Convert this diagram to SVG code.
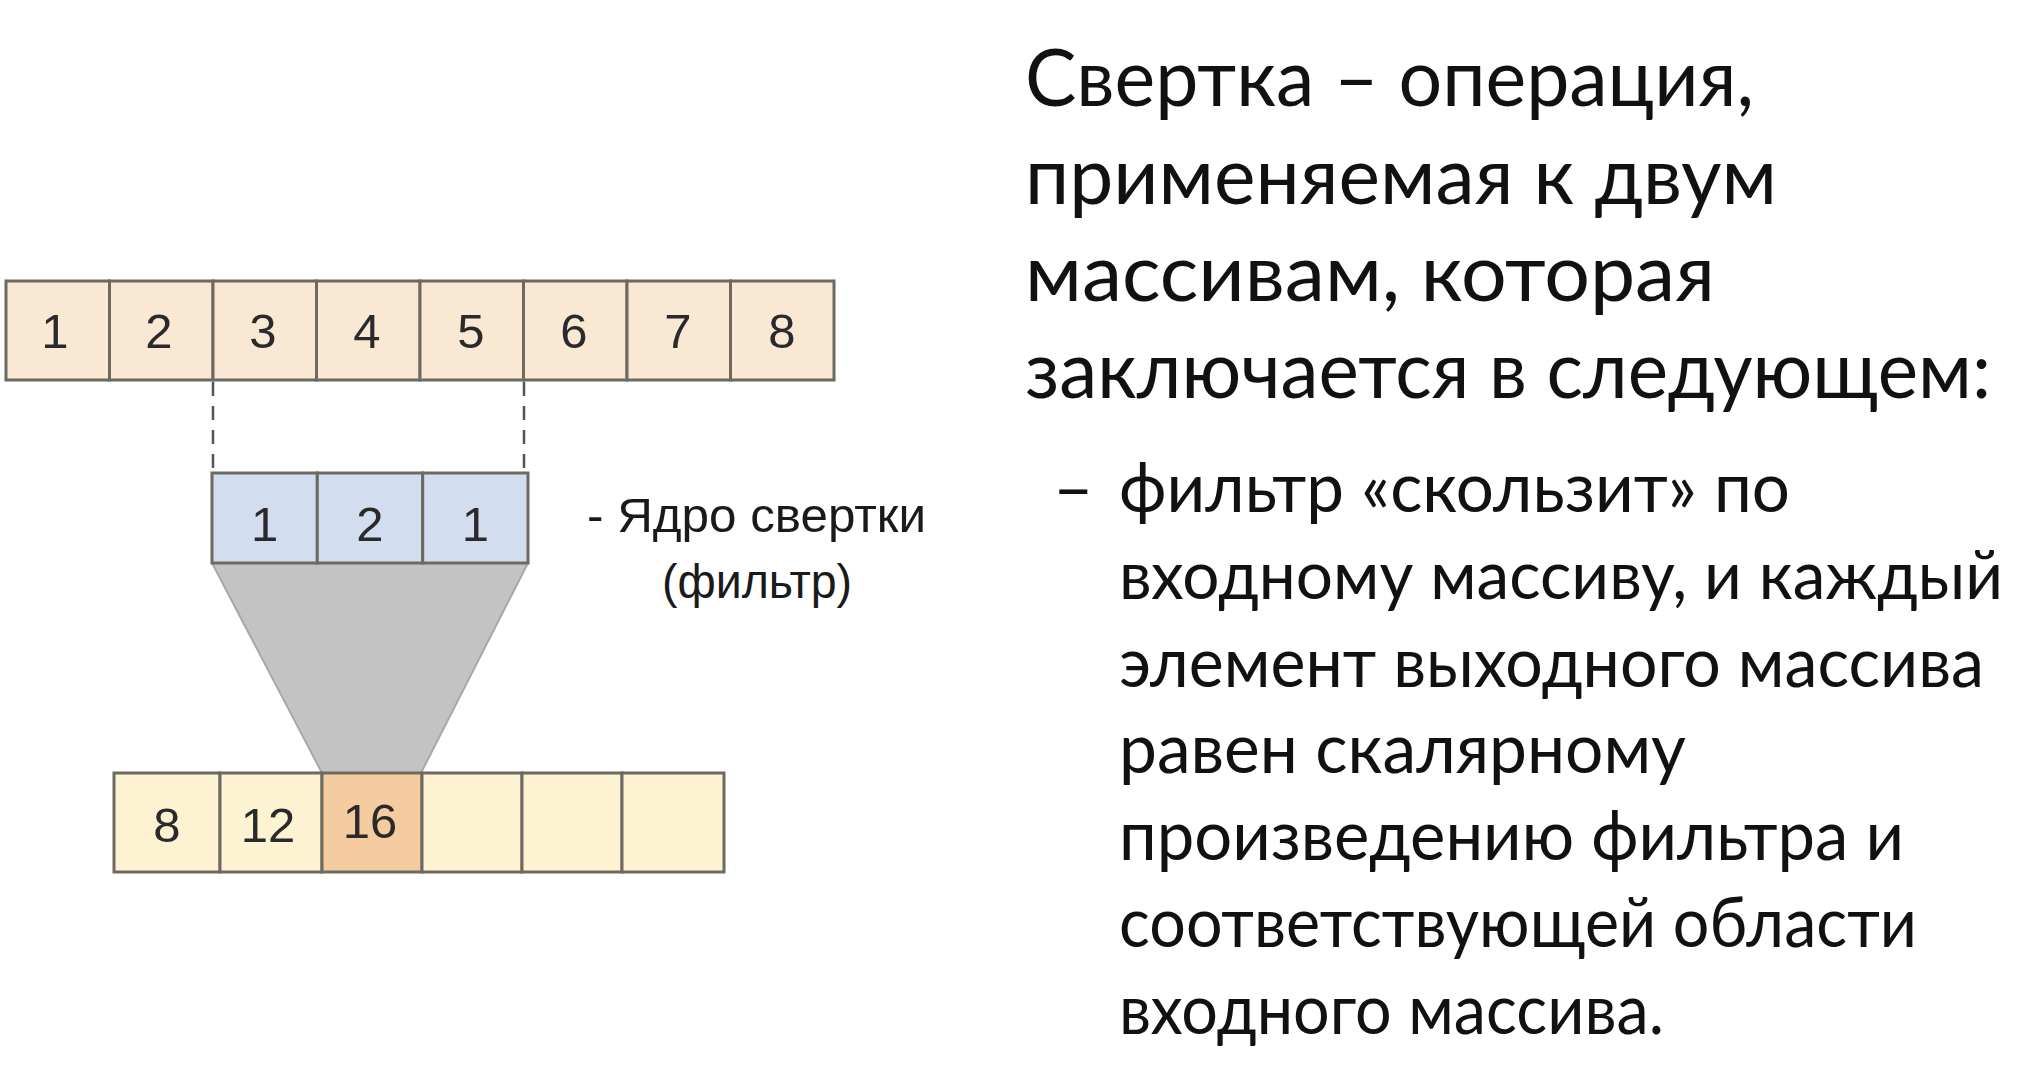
<svg xmlns="http://www.w3.org/2000/svg" width="2034" height="1066" viewBox="0 0 2034 1066">
<style>
.cellA{fill:#f8e8d4;stroke:#6e6a62;stroke-width:3}
.cellK{fill:#d2ddf0;stroke:#6e6a62;stroke-width:3}
.cellO{fill:#fdf2d2;stroke:#6e6a62;stroke-width:3}
.cellH{fill:#f4cc9f;stroke:#6e6a62;stroke-width:3}
.num{font-family:"Liberation Sans",Arial,sans-serif;font-size:49px;fill:#2a2a2a;text-anchor:middle}
.lbl{font-family:"Liberation Sans",Arial,sans-serif;font-size:48px;fill:#1a1a1a}
.h{font-family:Lato,"Open Sans",sans-serif;font-size:79px;fill:#111}
.b{font-family:Lato,"Open Sans",sans-serif;font-size:70px;fill:#111}
.dash{stroke:#555;stroke-width:2.5;stroke-dasharray:14 10;fill:none}
</style>
<rect width="2034" height="1066" fill="#ffffff"/>
<g id="connectors">
  <line class="dash" x1="213" y1="382" x2="213" y2="473"/>
  <line class="dash" x1="524" y1="382" x2="524" y2="473"/>
  <polygon points="212,563 528,563 421,773 322,773" fill="#c3c3c3" stroke="#a8a8a8" stroke-width="2"/>
</g>
<g id="input-array">
  <rect class="cellA" x="6" y="281" width="103.5" height="99"/>
  <rect class="cellA" x="109.5" y="281" width="103.5" height="99"/>
  <rect class="cellA" x="213" y="281" width="103.5" height="99"/>
  <rect class="cellA" x="316.5" y="281" width="103.5" height="99"/>
  <rect class="cellA" x="420" y="281" width="103.5" height="99"/>
  <rect class="cellA" x="523.5" y="281" width="103.5" height="99"/>
  <rect class="cellA" x="627" y="281" width="103.5" height="99"/>
  <rect class="cellA" x="730.5" y="281" width="103.5" height="99"/>
  <text class="num" x="55" y="348">1</text>
  <text class="num" x="159" y="348">2</text>
  <text class="num" x="263" y="348">3</text>
  <text class="num" x="367" y="348">4</text>
  <text class="num" x="471" y="348">5</text>
  <text class="num" x="574" y="348">6</text>
  <text class="num" x="678" y="348">7</text>
  <text class="num" x="782" y="348">8</text>
</g>
<g id="kernel">
  <rect class="cellK" x="212" y="473" width="105.3" height="90"/>
  <rect class="cellK" x="317.3" y="473" width="105.4" height="90"/>
  <rect class="cellK" x="422.7" y="473" width="105.3" height="90"/>
  <text class="num" x="264.7" y="541">1</text>
  <text class="num" x="370" y="541">2</text>
  <text class="num" x="475.3" y="541">1</text>
</g>
<g id="kernel-label">
  <text class="lbl" x="587" y="532" textLength="339" lengthAdjust="spacingAndGlyphs">- Ядро свертки</text>
  <text class="lbl" x="662" y="598" textLength="190" lengthAdjust="spacingAndGlyphs">(фильтр)</text>
</g>
<g id="output-array">
  <rect class="cellO" x="114" y="773" width="106" height="99"/>
  <rect class="cellO" x="220" y="773" width="102" height="99"/>
  <rect class="cellH" x="322" y="773" width="100" height="99"/>
  <rect class="cellO" x="422" y="773" width="100" height="99"/>
  <rect class="cellO" x="522" y="773" width="100" height="99"/>
  <rect class="cellO" x="622" y="773" width="102" height="99"/>
  <text class="num" x="167" y="842">8</text>
  <text class="num" x="268" y="842">12</text>
  <text class="num" x="370" y="838">16</text>
</g>
<g id="description">
  <text class="h" x="1025" y="106" textLength="729" lengthAdjust="spacingAndGlyphs">Свертка – операция,</text>
  <text class="h" x="1025" y="204" textLength="752" lengthAdjust="spacingAndGlyphs">применяемая к двум</text>
  <text class="h" x="1025" y="301" textLength="690" lengthAdjust="spacingAndGlyphs">массивам,  которая</text>
  <text class="h" x="1025" y="398" textLength="966" lengthAdjust="spacingAndGlyphs">заключается в следующем:</text>
  <text class="b" x="1053" y="512">–</text>
  <text class="b" x="1119" y="512" textLength="671" lengthAdjust="spacingAndGlyphs">фильтр «скользит» по</text>
  <text class="b" x="1119" y="599" style="font-size:67px" textLength="884" lengthAdjust="spacingAndGlyphs">входному массиву, и каждый</text>
  <text class="b" x="1119" y="687" textLength="865" lengthAdjust="spacingAndGlyphs">элемент выходного массива</text>
  <text class="b" x="1119" y="773" textLength="567" lengthAdjust="spacingAndGlyphs">равен скалярному</text>
  <text class="b" x="1119" y="860" textLength="785" lengthAdjust="spacingAndGlyphs">произведению фильтра и</text>
  <text class="b" x="1119" y="947" textLength="798" lengthAdjust="spacingAndGlyphs">соответствующей области</text>
  <text class="b" x="1119" y="1034" textLength="545" lengthAdjust="spacingAndGlyphs">входного массива.</text>
</g>
</svg>
